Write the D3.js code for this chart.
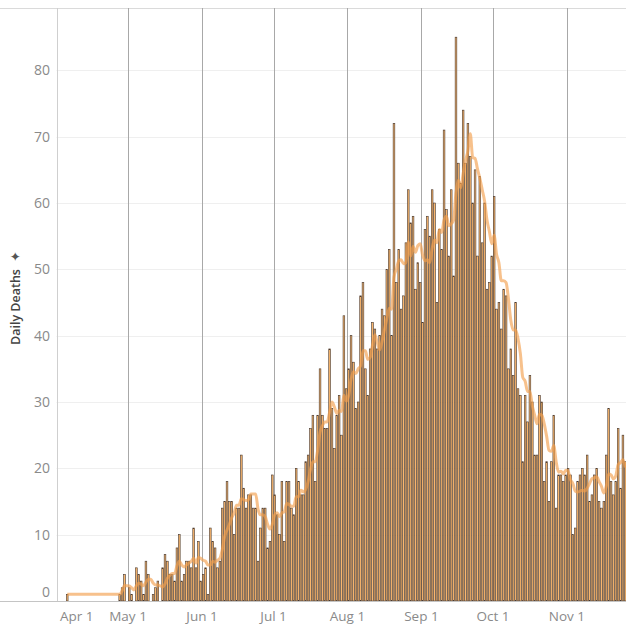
<!DOCTYPE html>
<html>
<head>
<meta charset="utf-8">
<script src="https://cdn.jsdelivr.net/npm/d3@7"></script>
<style>
  body { margin: 0; background: #fff; }
  svg { display: block; font-family: "Open Sans", "Noto Sans", sans-serif; }
</style>
</head>
<body>
<div id="chart"></div>
<script>
// ---------- data (daily deaths, 2020) ----------
const startDay = "2020-04-01";
const aprDeaths = [null, null, null, null, 1, null, null, null, null, null,
                   null, null, null, null, null, null, null, null, null, null,
                   null, null, null, null, null, null, 1, 2, 4, null];
const mayDeaths = [2, 1, 0, 5, 4, 3, 1, 6, 4, 0, 1, 2, 3, 0, 5, 7, 6, 4, 4, 3,
                   8, 10, 3, 4, 6, 6, 5, 11, 5, 9, 3];
const junDeaths = [4, 5, 1, 11, 9, 8, 5, 6, 14, 15, 18, 15, 15, 10, 14, 14, 22, 17, 14, 16,
                   16, 14, 14, 6, 11, 14, 14, 8, 9, 19];
const julDeaths = [16, 13, 10, 18, 9, 18, 18, 14, 13, 20, 18, 16, 16, 21, 22, 26, 28, 18, 28, 35,
                   28, 26, 26, 38, 29, 23, 28, 31, 25, 43, 32];
const augDeaths = [35, 40, 36, 29, 30, 46, 48, 35, 31, 38, 42, 41, 38, 40, 44, 43, 50, 53, 40, 72,
                   48, 53, 44, 46, 54, 62, 57, 58, 47, 51, 48];
const sepDeaths = [42, 56, 58, 55, 62, 60, 45, 56, 53, 71, 59, 52, 62, 49, 85, 66, 63, 74, 66, 72,
                   67, 60, 65, 52, 64, 54, 60, 47, 48, 52];
const octDeaths = [61, 44, 45, 41, 47, 46, 35, 38, 34, 45, 32, 31, 21, 31, 27, 34, 30, 22, 22, 31,
                   30, 18, 21, 15, 21, 28, 14, 19, 19, 18, 19];
const novDeaths = [20, 19, 10, 11, 18, 19, 20, 19, 22, 15, 16, 19, 20, 15, 14, 15, 22, 29, 18, 16,
                   18, 26, 17, 25, 21];

const yTicks = [0, 10, 20, 30, 40, 50, 60, 70, 80];
const monthTicks = ["2020-04-01", "2020-05-01", "2020-06-01", "2020-07-01",
                    "2020-08-01", "2020-09-01", "2020-10-01", "2020-11-01"];
const yTitle = "Daily Deaths";

// ---------- build rows ----------
const parse = d3.utcParse("%Y-%m-%d");
const t0 = parse(startDay);
const allValues = [].concat(aprDeaths, mayDeaths, junDeaths, julDeaths,
                            augDeaths, sepDeaths, octDeaths, novDeaths);
const rows = allValues.map((v, i) => ({ date: d3.utcDay.offset(t0, i), value: v }));

// trailing 7 day average over the days that have a figure
rows.forEach((r, i) => {
  if (r.value == null) { r.avg = null; return; }
  const win = rows.slice(Math.max(0, i - 6), i + 1).filter(d => d.value != null);
  r.avg = d3.mean(win, d => d.value);
});

// ---------- layout ----------
const width = 626, height = 625;
const plotLeft = 56.5, plotTop = 8, plotBottom = 601;
const dayW = 2.385;

const x = d3.scaleUtc()
  .domain([t0, d3.utcDay.offset(t0, 240)])
  .range([plotLeft, plotLeft + 240 * dayW]);
const y = d3.scaleLinear()
  .domain([0, 89.4])
  .range([plotBottom, plotTop]);

const svg = d3.select("#chart").append("svg")
  .attr("width", width)
  .attr("height", height);

// horizontal gridlines
svg.append("g")
  .selectAll("line")
  .data(yTicks.filter(t => t > 0))
  .join("line")
    .attr("x1", plotLeft).attr("x2", width)
    .attr("y1", d => Math.round(y(d)) + 0.5).attr("y2", d => Math.round(y(d)) + 0.5)
    .attr("stroke", "#efefef");

// top border
svg.append("line")
  .attr("x1", 0).attr("x2", width)
  .attr("y1", plotTop + 0.5).attr("y2", plotTop + 0.5)
  .attr("stroke", "#dadada");

// month lines
svg.append("g")
  .selectAll("line")
  .data(monthTicks.slice(1).map(parse))
  .join("line")
    .attr("x1", d => Math.round(x(d)) + 0.5).attr("x2", d => Math.round(x(d)) + 0.5)
    .attr("y1", plotTop).attr("y2", plotBottom)
    .attr("stroke", "#a8a8a8");

// left axis line
svg.append("line")
  .attr("x1", Math.round(plotLeft) + 0.5).attr("x2", Math.round(plotLeft) + 0.5)
  .attr("y1", plotTop).attr("y2", plotBottom)
  .attr("stroke", "#cfcfcf");

// bars
svg.append("g")
  .selectAll("rect")
  .data(rows.filter(d => d.value > 0))
  .join("rect")
    .attr("x", d => x(d.date) + 0.35)
    .attr("y", d => y(d.value))
    .attr("width", dayW - 0.7)
    .attr("height", d => plotBottom - y(d.value))
    .attr("fill", "#fab76e")
    .attr("stroke", "#45352b")
    .attr("stroke-width", 0.6);

// moving average line
const line = d3.line()
  .defined(d => d.avg != null)
  .curve(d3.curveMonotoneX)
  .x(d => x(d.date) + dayW / 2)
  .y(d => y(d.avg));

svg.append("path")
  .datum(rows.filter(d => d.avg != null))
  .attr("d", line)
  .attr("fill", "none")
  .attr("stroke", "#f2a04e")
  .attr("stroke-opacity", 0.65)
  .attr("stroke-width", 3)
  .attr("stroke-linejoin", "round");

// zero line
svg.append("line")
  .attr("x1", 0).attr("x2", width)
  .attr("y1", plotBottom + 0.5).attr("y2", plotBottom + 0.5)
  .attr("stroke", "#c4c4c4");

// y labels
svg.append("g")
  .selectAll("text")
  .data(yTicks)
  .join("text")
    .attr("x", 50)
    .attr("y", d => d === 0 ? y(d) - 9 : y(d))
    .attr("dy", "0.35em")
    .attr("text-anchor", "end")
    .attr("fill", "#8a8a8a")
    .attr("font-size", 14)
    .text(d => d);

// x labels
const fmt = d3.utcFormat("%b %-d");
svg.append("g")
  .selectAll("text")
  .data(monthTicks.map(parse))
  .join("text")
    .attr("x", (d, i) => i === 0 ? 60 : x(d))
    .attr("y", 621)
    .attr("text-anchor", (d, i) => i === 0 ? "start" : "middle")
    .attr("fill", "#8a8a8a")
    .attr("font-size", 13.5)
    .text(d => fmt(d));

// y title
const title = svg.append("g").attr("transform", "translate(20,345) rotate(-90)");
title.append("text")
  .attr("x", 0).attr("y", 0)
  .attr("fill", "#444")
  .attr("font-size", 12.5)
  .attr("font-weight", 600)
  .text(yTitle);
title.append("text")
  .attr("x", 83).attr("y", 0)
  .attr("fill", "#555")
  .attr("font-size", 13)
  .text("\u2726");
</script>
</body>
</html>
